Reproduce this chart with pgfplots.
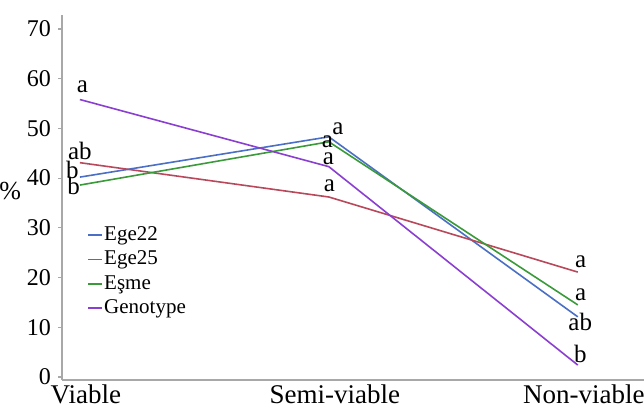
\documentclass[border=0pt]{standalone}
\usepackage{pgfplots}
\pgfplotsset{compat=1.18}
\usepackage{fontspec}
\setmainfont{Liberation Serif}
\definecolor{cEgeA}{HTML}{4A6FC4}
\definecolor{cEgeB}{HTML}{B9485A}
\definecolor{cEsme}{HTML}{3A9A3A}
\definecolor{cGeno}{HTML}{8A3FD0}
\definecolor{axgray}{HTML}{A8A8A8}
\begin{document}
\begin{tikzpicture}
\begin{axis}[
  scale only axis, width=291pt, height=182.5pt,
  xmin=-0.072, xmax=2.266, ymin=-0.6, ymax=72.8,
  axis x line=bottom, axis y line=left,
  axis line style={draw=axgray, line width=0.6pt, -},
  xtick={0,1,2}, xticklabels={Viable,Semi-viable,Non-viable},
  x tick style={draw=none},
  ytick={0,10,...,70},
  y tick style={draw=axgray, line width=0.6pt},
  tick align=outside, major tick length=2pt,
  x tick label style={font=\fontsize{13.5}{14}\selectfont, yshift=3pt, xshift=3pt},
  y tick label style={font=\fontsize{12}{13}\selectfont},
  /pgf/number format/assume math mode=true,
  legend style={at={(rel axis cs:0.043,0.425)}, anchor=north west, draw=none, fill=none,
    font=\fontsize{10.5}{11}\selectfont, row sep=2.6pt, inner sep=0pt,
    nodes={inner sep=0.6pt}},
  legend cell align=left,
  legend image code/.code={\draw[#1] (0pt,0pt) -- (7pt,0pt);},
  every axis plot/.append style={line width=0.8pt},
  clip=false,
]
\addplot[cEgeA] coordinates {(0,40.2) (1,48.3) (2,12.1)};
\addlegendentry{Ege22}
\addplot[cEgeB] coordinates {(0,43.1) (1,36.2) (2,21.1)};
\addlegendentry{Ege25}
\addplot[cEsme] coordinates {(0,38.6) (1,47.3) (2,14.5)};
\addlegendentry{Eşme}
\addplot[cGeno] coordinates {(0,55.8) (1,42.3) (2,2.4)};
\addlegendentry{Genotype}
\begin{scope}[every node/.style={font=\fontsize{12.5}{13}\selectfont, inner sep=0pt}]
\node at (axis cs:0.01,58.3) {a};
\node at (axis cs:0,45.4) {ab};
\node at (axis cs:-0.03,41.6) {b};
\node at (axis cs:-0.025,38.4) {b};
\node at (axis cs:1.036,49.9) {a};
\node at (axis cs:0.994,47.4) {a};
\node at (axis cs:0.998,43.8) {a};
\node at (axis cs:1.002,38.5) {a};
\node at (axis cs:2.012,23.2) {a};
\node at (axis cs:2.012,16.6) {a};
\node at (axis cs:2.01,11.0) {ab};
\node at (axis cs:2.01,4.7) {b};
\end{scope}
\node[font=\fontsize{13}{14}\selectfont, inner sep=0pt] at (axis cs:-0.28,37.4) {\%};
\coordinate (bl) at (rel axis cs:0,0);
\coordinate (tr) at (rel axis cs:1,1);
\end{axis}
\pgfresetboundingbox
\path ([shift={(-31pt,-13.5pt)}]bl) rectangle ([shift={(0pt,7.5pt)}]tr);
\end{tikzpicture}
\end{document}
